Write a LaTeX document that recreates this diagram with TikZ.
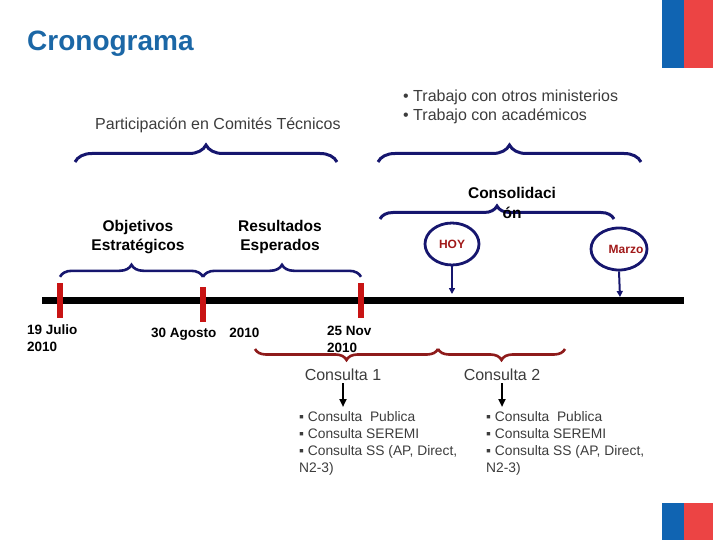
\documentclass[tikz,border=0pt]{standalone}
\usepackage{fontspec}
\setmainfont{Liberation Sans}
\usepackage{xcolor}
\usetikzlibrary{arrows.meta,positioning,shapes.geometric,decorations.pathreplacing}
\definecolor{titlecol}{HTML}{1B67A6}
\definecolor{flagblue}{HTML}{1064B2}
\definecolor{flagred}{HTML}{EC4444}
\definecolor{navycol}{HTML}{16166E}
\definecolor{tickcol}{HTML}{C81414}
\definecolor{winecol}{HTML}{8E1B1B}
\definecolor{greytxt}{HTML}{3C3C3C}
\definecolor{hoycol}{HTML}{A01818}

\begin{document}
\begin{tikzpicture}[x=1pt,y=-1pt,
  txt/.style={font=\fontsize{16}{19}\selectfont,text=greytxt,inner sep=0pt},
  lst/.style={font=\fontsize{13.8}{17}\selectfont,text=greytxt,inner sep=0pt,
              align=left,anchor=north west},
  lbl/.style={font=\bfseries\fontsize{15.5}{19}\selectfont,inner sep=0pt,
              align=center,anchor=north},
  dt/.style={font=\bfseries\fontsize{13.5}{17}\selectfont,inner sep=0pt,align=left},
  tick/.style={fill=tickcol,minimum width=6pt,minimum height=35pt,inner sep=0pt},
  ell/.style={ellipse,draw=navycol,line width=2.8pt,minimum width=54pt,
              minimum height=42pt,inner sep=0pt},
  hoytxt/.style={font=\bfseries\fontsize{12}{14}\selectfont,text=hoycol},
  br/.style={decorate,decoration={brace,amplitude=#1},line width=3pt,navycol},
  wbr/.style={br=11pt,winecol,line width=2.6pt,decoration={mirror}},
  ar/.style={-{Triangle[length=8pt,width=7pt]},line width=2pt},
]
\useasboundingbox (0,0) rectangle (720,540);
% flag corners
\fill[flagblue] (662,0) rectangle (684,68);
\fill[flagred] (684,0) rectangle (713,68);
\fill[flagblue] (662,503) rectangle (684,540);
\fill[flagred] (684,503) rectangle (713,540);

\node[font=\bfseries\fontsize{28}{32}\selectfont,text=titlecol,anchor=base west,
      inner sep=0pt] (title) at (27,51) {Cronograma};

% top row
\node[txt,anchor=base west] (comites) at (95,130) {Participación en Comités Técnicos};
\node[txt,align=left,anchor=north west] (trabajo) at (403,90)
  {• Trabajo con otros ministerios\\• Trabajo con académicos};
\draw[br=17pt] (75,162) -- (337,162);
\draw[br=17pt] (378,162) -- (641,162);

% timeline
\draw[line width=6.5pt] (42,300.5) -- (684,300.5);
\node[tick] (jul) at (60,300.5) {};
\node[tick] (ago) at (203,304.5) {};
\node[tick] (nov) at (361,300.5) {};
\draw[br=12pt,line width=2.6pt] ([yshift=6pt]jul.north) -- ([yshift=10pt]ago.north);
\draw[br=12pt,line width=2.6pt] ([yshift=10pt]ago.north) -- ([yshift=6pt]nov.north);
\node[lbl] (obj) at (138,220) {Objetivos\\Estratégicos};
\node[lbl] (res) at (280,220) {Resultados\\Esperados};

\node[dt,anchor=north west] (d1) at (27,324.5) {19 Julio\\2010};
\node[dt,anchor=base west] (d2) at (151,337) {30 Agosto\hspace{13pt}2010};
\node[dt,anchor=north west] (d3) at (327,325.5) {25 Nov\\2010};

% consolidacion
\draw[br=13pt] (380,219) -- (614,219);
\node[lbl,font=\bfseries\fontsize{15.5}{20}\selectfont] (conso) at (512,187)
  {Consolidaci\\ón};
\node[ell,hoytxt] (hoy) at (452,244) {HOY};
\node[ell,minimum width=56pt,label={[hoytxt,xshift=7pt]center:Marzo}] (marzo) at (619,249) {};
\coordinate (hoyend) at (452,294);
\coordinate (marzoend) at (620,297);
\draw[ar,navycol,-{Triangle[length=6pt,width=6pt]}] (hoy.south) -- (hoyend);
\draw[ar,navycol,-{Triangle[length=6pt,width=6pt]}] (marzo.south) -- (marzoend);

% consultas
\draw[wbr] (255,349) -- (438,349);
\draw[wbr] (438,349) -- (565,349);
\node[txt,anchor=base] (c1) at (343,380) {Consulta 1};
\node[txt,anchor=base] (c2) at (502,380) {Consulta 2};
\node[lst] (l1) at (299,411)
  {▪ Consulta\ \ Publica\\▪ Consulta SEREMI\\▪ Consulta SS (AP, Direct,\\N2-3)};
\node[lst] (l2) at (486,411)
  {▪ Consulta\ \ Publica\\▪ Consulta SEREMI\\▪ Consulta SS (AP, Direct,\\N2-3)};
\draw[ar,shorten <=3pt,shorten >=4pt] (c1.south) -- (c1.south |- l1.north);
\draw[ar,shorten <=3pt,shorten >=4pt] (c2.south) -- (c2.south |- l2.north);
\end{tikzpicture}
\end{document}
